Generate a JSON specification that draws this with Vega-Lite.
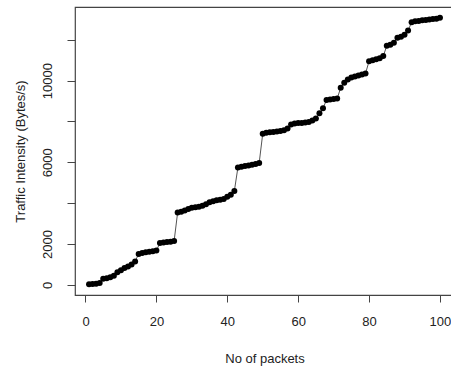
{
  "$schema": "https://vega.github.io/schema/vega-lite/v6.json",
  "autosize": "none",
  "width": 379,
  "height": 288,
  "padding": {"left": 75, "top": 7, "right": 0, "bottom": 74},
  "background": "white",
  "config": {
    "view": {"stroke": "#444", "strokeWidth": 1.2},
    "font": "Liberation Sans",
    "axis": {"grid": false, "domain": false, "tickColor": "#444", "labelColor": "#222", "titleColor": "#222", "labelFont": "Liberation Sans", "titleFont": "Liberation Sans", "labelFontSize": 13, "titleFontSize": 13, "titleFontWeight": "normal"}
  },
  "data": {"values": [
    {"x":1,"y":30},{"x":2,"y":50},{"x":3,"y":60},{"x":4,"y":90},
    {"x":5,"y":300},{"x":6,"y":330},{"x":7,"y":380},{"x":8,"y":450},
    {"x":9,"y":620},{"x":10,"y":720},{"x":11,"y":830},{"x":12,"y":900},{"x":13,"y":1000},{"x":14,"y":1150},
    {"x":15,"y":1520},{"x":16,"y":1560},{"x":17,"y":1600},{"x":18,"y":1620},{"x":19,"y":1650},{"x":20,"y":1680},
    {"x":21,"y":2050},{"x":22,"y":2080},{"x":23,"y":2100},{"x":24,"y":2110},{"x":25,"y":2150},
    {"x":26,"y":3550},{"x":27,"y":3580},{"x":28,"y":3640},{"x":29,"y":3720},{"x":30,"y":3780},{"x":31,"y":3800},{"x":32,"y":3830},{"x":33,"y":3880},{"x":34,"y":3950},
    {"x":35,"y":4050},{"x":36,"y":4100},{"x":37,"y":4140},{"x":38,"y":4170},{"x":39,"y":4200},{"x":40,"y":4320},{"x":41,"y":4420},{"x":42,"y":4600},
    {"x":43,"y":5750},{"x":44,"y":5790},{"x":45,"y":5820},{"x":46,"y":5850},{"x":47,"y":5880},{"x":48,"y":5920},{"x":49,"y":5970},
    {"x":50,"y":7400},{"x":51,"y":7450},{"x":52,"y":7470},{"x":53,"y":7490},{"x":54,"y":7510},{"x":55,"y":7530},{"x":56,"y":7570},{"x":57,"y":7650},
    {"x":58,"y":7850},{"x":59,"y":7900},{"x":60,"y":7920},{"x":61,"y":7930},{"x":62,"y":7950},{"x":63,"y":7980},{"x":64,"y":8050},{"x":65,"y":8150},
    {"x":66,"y":8400},{"x":67,"y":8650},
    {"x":68,"y":9050},{"x":69,"y":9080},{"x":70,"y":9100},{"x":71,"y":9120},
    {"x":72,"y":9650},{"x":73,"y":9900},{"x":74,"y":10050},{"x":75,"y":10150},{"x":76,"y":10200},{"x":77,"y":10250},{"x":78,"y":10300},{"x":79,"y":10350},
    {"x":80,"y":10950},{"x":81,"y":11000},{"x":82,"y":11050},{"x":83,"y":11100},{"x":84,"y":11200},
    {"x":85,"y":11700},{"x":86,"y":11750},{"x":87,"y":11850},
    {"x":88,"y":12100},{"x":89,"y":12150},{"x":90,"y":12250},{"x":91,"y":12450},
    {"x":92,"y":12850},{"x":93,"y":12900},{"x":94,"y":12920},{"x":95,"y":12950},{"x":96,"y":12970},{"x":97,"y":12990},{"x":98,"y":13010},{"x":99,"y":13030},{"x":100,"y":13080}
  ]},
  "encoding": {
    "x": {"field": "x", "type": "quantitative",
      "scale": {"domain": [-2.96, 103.96], "nice": false, "zero": false},
      "axis": {"values": [0,20,40,60,80,100], "tickSize": 7, "labelPadding": 13, "title": "No of packets", "titleY": 63, "titleBaseline": "middle", "labelFlush": false}},
    "y": {"field": "y", "type": "quantitative",
      "scale": {"domain": [-492, 13602], "nice": false, "zero": false},
      "axis": {"values": [0,2000,4000,6000,8000,10000,12000], "tickSize": 8, "labelAngle": 270, "labelAlign": "center", "labelBaseline": "bottom", "labelPadding": 13, "labelExpr": "(datum.value == 4000 || datum.value == 8000 || datum.value == 12000) ? '' : datum.value", "labelFlush": false, "labelOverlap": false, "title": "Traffic Intensity (Bytes/s)", "titleX": -55, "titleBaseline": "middle"}}
  },
  "layer": [
    {"mark": {"type": "line", "color": "#555", "strokeWidth": 1}},
    {"mark": {"type": "point", "filled": true, "color": "black", "opacity": 1, "size": 36}}
  ]
}
